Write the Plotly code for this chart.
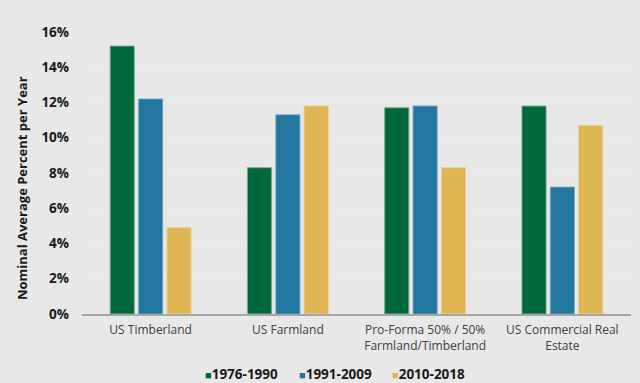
import plotly.graph_objects as go

categories = ["US Timberland", "US Farmland", "Pro-Forma 50% / 50%<br>Farmland/Timberland", "US Commercial Real<br>Estate"]
series_names = ["1976-1990", "1991-2009", "2010-2018"]
s1 = [15.2, 8.3, 11.7, 11.8]
s2 = [12.2, 11.3, 11.8, 7.2]
s3 = [4.9, 11.8, 8.3, 10.7]
colors = ["#00693c", "#23769f", "#e0b554"]
outline = ["rgba(120,170,140,0.9)", "rgba(120,165,190,0.9)", "rgba(235,205,140,0.9)"]
legend_x = [203, 297, 390]  # legend entry left edges (px)

fig = go.Figure()
for name, vals, c, oc in zip(series_names, [s1, s2, s3], colors, outline):
    fig.add_trace(go.Bar(x=categories, y=vals, name=name, marker=dict(color=c, line=dict(color=oc, width=1))))

L, R, T, B, W, H = 82, 9, 32, 69, 640, 383
pw = W - L - R

annotations = [dict(text="Nominal Average Percent per Year", xref="paper", yref="paper",
                    x=-0.109, y=0.447, textangle=-90, showarrow=False, xanchor="center", yanchor="middle",
                    font=dict(size=13, color="#1a1a1a", family="Open Sans", weight="bold"))]
for name, c, px in zip(series_names, colors, legend_x):
    annotations.append(dict(
        text=f"<span style='color:{c};font-size:11px'>■</span>{name}",
        xref="paper", yref="paper", x=(px - L) / pw, y=(H - B - 374) / (H - T - B),
        xanchor="left", yanchor="middle", showarrow=False,
        font=dict(size=13.5, color="#1a1a1a", family="Open Sans", weight="bold")))

fig.update_layout(
    width=W, height=H,
    margin=dict(l=L, r=R, t=T, b=B, autoexpand=False),
    paper_bgcolor="#e8e8e8", plot_bgcolor="#e8e8e8",
    barmode="group", bargap=0.38, bargroupgap=0.15,
    font=dict(family="Open Sans", color="#1a1a1a"),
    showlegend=False,
    xaxis=dict(showline=True, linecolor="#a6a6a6", linewidth=2, ticks="", automargin=False, ticklabelstandoff=4,
               tickfont=dict(size=12, color="#404040", family="Open Sans"), showgrid=False),
    yaxis=dict(range=[0, 16], dtick=2, ticksuffix="%", showgrid=True, gridcolor="#ececec", gridwidth=1,
               zeroline=False, showline=False, ticks="", ticklabelstandoff=12, automargin=False,
               tickfont=dict(size=13.5, color="#1a1a1a", family="Open Sans", weight="bold")),
    annotations=annotations,
)
fig.write_html("out.html")
